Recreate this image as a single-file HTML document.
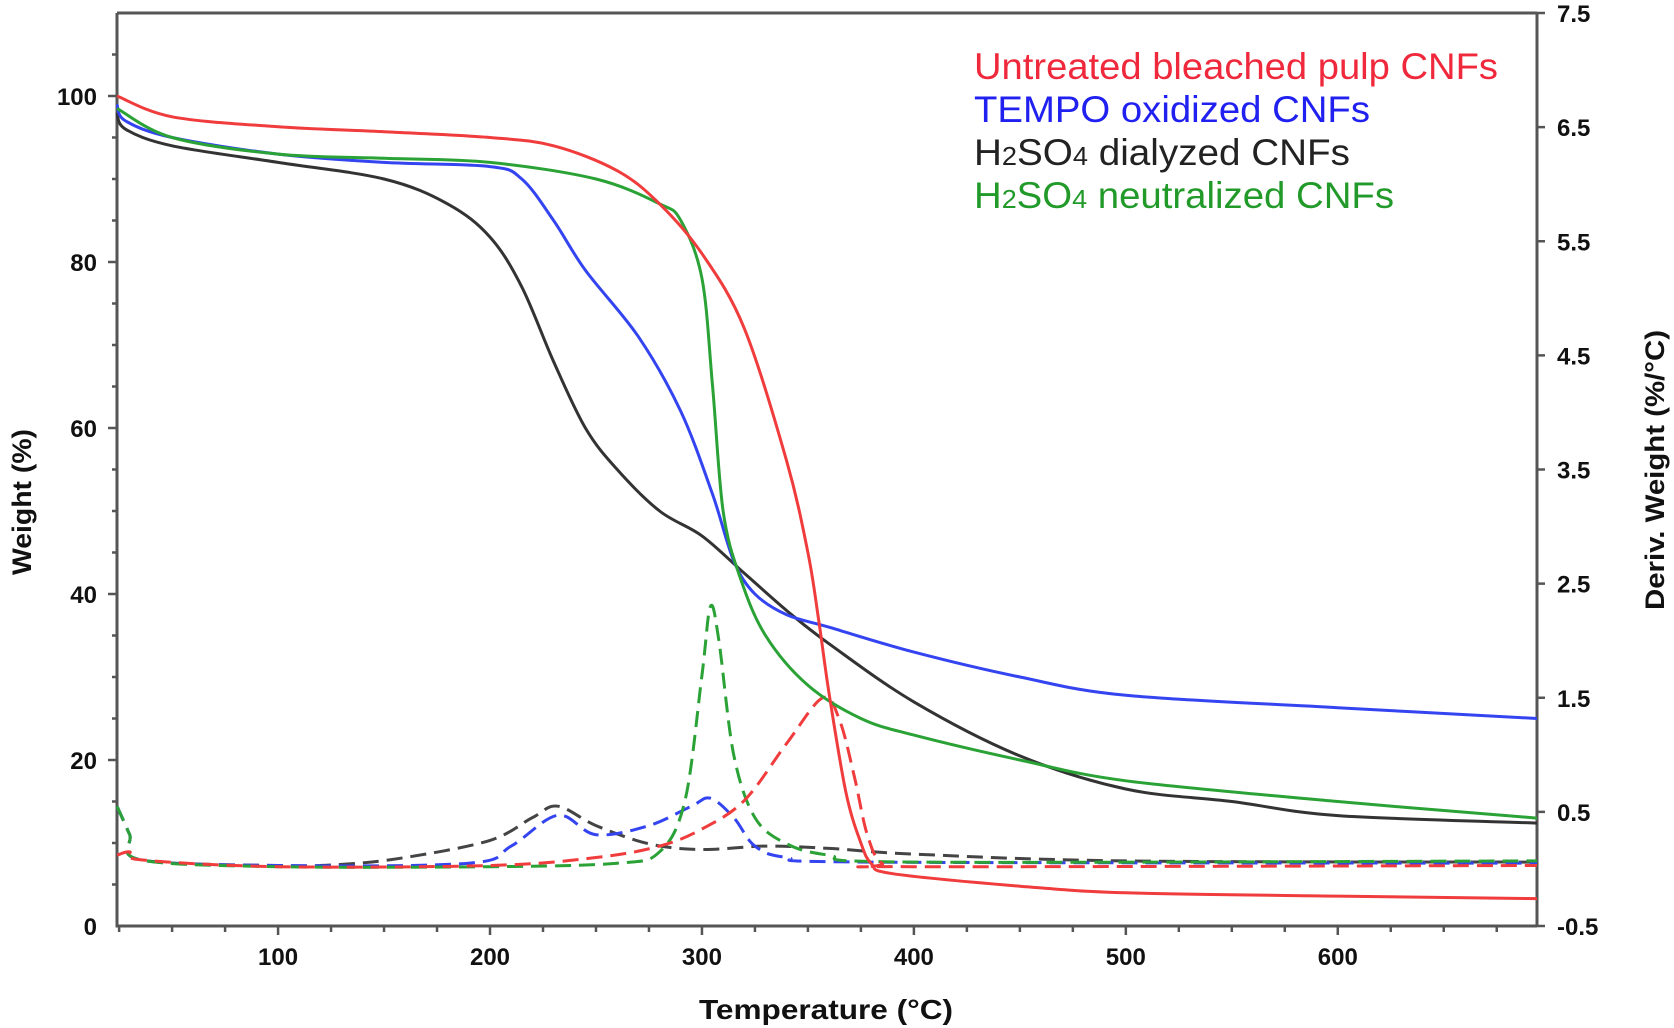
<!DOCTYPE html>
<html><head><meta charset="utf-8"><style>
html,body{margin:0;padding:0;background:#fff;}
svg{display:block;font-family:"Liberation Sans",Arial,sans-serif;}
</style></head><body>
<svg id="chart" width="1674" height="1028" viewBox="0 0 1674 1028" xmlns="http://www.w3.org/2000/svg">
<g id="axes"></g>
<g id="series"></g>
<g id="legend">
  <text x="974" y="79" font-size="37" fill="#f0283c" textLength="524" lengthAdjust="spacingAndGlyphs">Untreated bleached pulp CNFs</text>
  <text x="974" y="122" font-size="37" fill="#2020f0" textLength="396" lengthAdjust="spacingAndGlyphs">TEMPO oxidized CNFs</text>
  <text x="974" y="165" font-size="37" fill="#222" textLength="376" lengthAdjust="spacingAndGlyphs">H<tspan font-size="26">2</tspan>SO<tspan font-size="26">4</tspan> dialyzed CNFs</text>
  <text x="974" y="208" font-size="37" fill="#229a2a" textLength="420" lengthAdjust="spacingAndGlyphs">H<tspan font-size="26">2</tspan>SO<tspan font-size="26">4</tspan> neutralized CNFs</text>
</g>
<text transform="translate(31,502) rotate(-90)" text-anchor="middle" font-size="27" font-weight="bold" fill="#111" textLength="146" lengthAdjust="spacingAndGlyphs">Weight (%)</text>
<text transform="translate(1664,470) rotate(-90)" text-anchor="middle" font-size="27" font-weight="bold" fill="#111" textLength="280" lengthAdjust="spacingAndGlyphs">Deriv. Weight (%/°C)</text>
<text x="826" y="1019" text-anchor="middle" font-size="28" font-weight="bold" fill="#111" textLength="254" lengthAdjust="spacingAndGlyphs">Temperature (°C)</text>
</svg>
<script>
const xTicks=[100,200,300,400,500,600];
const yTicks=[0,20,40,60,80,100];
const y2Ticks=[-0.5,0.5,1.5,2.5,3.5,4.5,5.5,6.5,7.5];
const y2Labels=["-0.5","0.5","1.5","2.5","3.5","4.5","5.5","6.5","7.5"];

const redT=[24,50,100,150,200,230,260,280,300,320,340,350,355,360,368,375,380,390,450,500,600,694];
const redW=[100,97.5,96.3,95.7,95,94,91,87,81,72,56,45,37,28,16,10,7.5,6.3,4.8,4,3.6,3.3];
const blueT=[24,28,50,100,150,200,215,230,245,270,290,305,315,325,340,360,400,450,500,600,694];
const blueW=[99,97,95,93,92,91.5,90,85,79,71,62,52,44,40,37.5,36,33,30,27.8,26.3,25];
const blackT=[24,28,50,100,150,180,200,215,230,245,260,280,300,320,340,360,400,450,500,550,600,694];
const blackW=[98,96,94,92,90,87,83,77,68,60,55,50,47,42.5,38,34,27,20.5,16.5,15,13.3,12.4];
const greenT=[24,50,100,150,200,250,280,290,300,305,310,318,330,350,375,400,450,500,600,694];
const greenW=[98.5,95,93,92.5,92,90,87,85,78,65,50,42,35,29,25,23,20,17.5,15,13];

const redDT=[24,30,35,100,200,250,280,300,320,340,357,365,372,378,385,400,694];
const redD=[0.12,0.15,0.08,0.02,0.03,0.1,0.2,0.35,0.6,1.1,1.5,1.3,0.8,0.3,0.05,0.02,0.03];
const greenDT=[24,30,35,100,200,260,280,292,300,304,308,315,325,340,360,400,694];
const greenD=[0.55,0.3,0.08,0.02,0.02,0.05,0.15,0.6,1.7,2.3,2.0,1.0,0.45,0.22,0.12,0.06,0.07];
const blueDT=[24,30,35,100,190,210,232,250,275,295,304,315,325,340,380,694];
const blueD=[0.55,0.3,0.08,0.03,0.05,0.2,0.47,0.3,0.38,0.55,0.62,0.45,0.2,0.1,0.06,0.05];
const blackDT=[24,30,35,100,130,160,200,220,232,250,275,300,330,360,400,500,694];
const blackD=[0.55,0.3,0.08,0.03,0.04,0.1,0.25,0.45,0.55,0.38,0.22,0.17,0.2,0.18,0.13,0.07,0.06];

const X0=117,X1=1537,YB=926,YT=13;
const xMin=24,xMax=694;
function sx(t){return X0+(t-xMin)/(xMax-xMin)*(X1-X0);}
function sy(w){return YB-w/110*(YB-YT);}
function sy2(d){return YB-(d+0.5)/8*(YB-YT);}
const NS="http://www.w3.org/2000/svg";
function mk(tag,attrs,parent){const e=document.createElementNS(NS,tag);for(const k in attrs)e.setAttribute(k,attrs[k]);parent.appendChild(e);return e;}
function pathFrom(xs,ys){
  const p=xs.map((x,i)=>[x,ys[i]]);
  let d="M"+p[0][0].toFixed(1)+","+p[0][1].toFixed(1);
  for(let i=0;i<p.length-1;i++){
    const p0=p[Math.max(0,i-1)],p1=p[i],p2=p[i+1],p3=p[Math.min(p.length-1,i+2)];
    const c1x=p1[0]+(p2[0]-p0[0])/6,c1y=p1[1]+(p2[1]-p0[1])/6;
    const c2x=p2[0]-(p3[0]-p1[0])/6,c2y=p2[1]-(p3[1]-p1[1])/6;
    d+="C"+c1x.toFixed(1)+","+c1y.toFixed(1)+" "+c2x.toFixed(1)+","+c2y.toFixed(1)+" "+p2[0].toFixed(1)+","+p2[1].toFixed(1);
  }
  return d;
}
const ax=document.getElementById('axes');
const frame=mk('path',{d:`M${X0},${YT} L${X1},${YT} M${X0},${YT} L${X0},${YB} L${X1},${YB} M${X1},${YT} L${X1},${YB}`,stroke:'#555',"stroke-width":3,fill:'none'},ax);


for(let t=25;t<=675;t+=25){
  const tk=mk('line',{x1:sx(t),x2:sx(t),y1:YB,y2:YB+(t%100===0?9:6),stroke:'#555',"stroke-width":2.5},ax);
  
  
}
xTicks.forEach(t=>{
  const l=mk('text',{x:sx(t),y:YB+39,"text-anchor":"middle","font-size":24,"font-weight":"bold",fill:'#111'},ax);
  l.textContent=t;
  
  
});
for(let w=5;w<=105;w+=5){
  const tk=mk('line',{x1:X0-(w%20===0?9:5),x2:X0,y1:sy(w),y2:sy(w),stroke:'#555',"stroke-width":2.5},ax);
  
  
}
yTicks.forEach(w=>{
  const l=mk('text',{x:X0-20,y:sy(w)+9,"text-anchor":"end","font-size":24,"font-weight":"bold",fill:'#111'},ax);
  l.textContent=w;
  
  
});
y2Ticks.forEach((d,i)=>{
  const tk=mk('line',{x1:X1,x2:X1+8,y1:sy2(d),y2:sy2(d),stroke:'#555',"stroke-width":2.5},ax);
  
  
  const l=mk('text',{x:X1+20,y:sy2(d)+9,"font-size":24,"font-weight":"bold",fill:'#111'},ax);
  l.textContent=y2Labels[i];
  
  
});
const sg=document.getElementById('series');
function draw(xs,ys,f,color,dash,name){
  const p=mk('path',{d:pathFrom(xs.map(sx),ys.map(f)),stroke:color,"stroke-width":3,fill:'none',"stroke-linejoin":"round"},sg);
  if(dash)p.setAttribute('stroke-dasharray','16 8');
  
  
}
draw(blackDT,blackD,sy2,'#444',true,'deriv-line-dialyzed');
draw(blueDT,blueD,sy2,'#3344f0',true,'deriv-line-tempo');
draw(greenDT,greenD,sy2,'#2aa236',true,'deriv-line-neutralized');
draw(redDT,redD,sy2,'#f03c3c',true,'deriv-line-untreated');
draw(blackT,blackW,sy,'#333',false,'weight-line-dialyzed');
draw(blueT,blueW,sy,'#3344f0',false,'weight-line-tempo');
draw(greenT,greenW,sy,'#2aa236',false,'weight-line-neutralized');
draw(redT,redW,sy,'#f03c3c',false,'weight-line-untreated');
</script>
</body></html>
